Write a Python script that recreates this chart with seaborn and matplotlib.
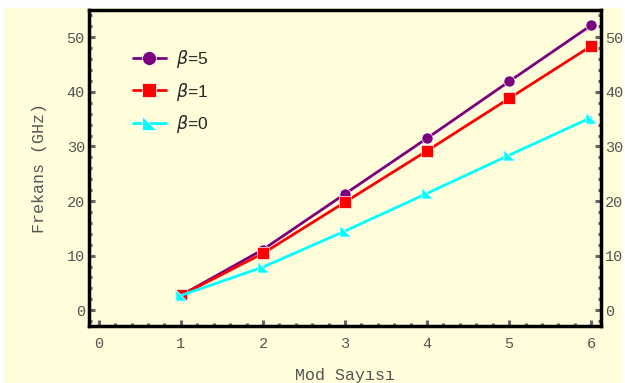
import numpy as np
import pandas as pd
import seaborn as sns
import matplotlib.pyplot as plt
from matplotlib.patches import Rectangle
from matplotlib.ticker import MultipleLocator

# data
mods = [1, 2, 3, 4, 5, 6]
beta5 = [2.7, 11.1, 21.3, 31.5, 41.9, 52.2]
beta1 = [2.7, 10.4, 19.8, 29.2, 38.8, 48.4]
beta0 = [2.7, 7.9, 14.5, 21.4, 28.4, 35.3]
labels = [r"$\beta$=5", r"$\beta$=1", r"$\beta$=0"]

df = pd.DataFrame({
    "Mod": mods * 3,
    "Frekans": beta5 + beta1 + beta0,
    "seri": [labels[0]] * 6 + [labels[1]] * 6 + [labels[2]] * 6,
})

cream = "#FFFDDA"
gray = "#555555"
tri = [(-1, 1), (-1, -1), (1, -1), (-1, 1)]
palette = {labels[0]: "#7B007F", labels[1]: "#FF0000", labels[2]: "#00FFFF"}
markers = {labels[0]: "o", labels[1]: "s", labels[2]: tri}

sns.set_style("white")
fig = plt.figure(figsize=(6.25, 3.83), dpi=100, facecolor="white")
bg = Rectangle((4 / 625, 0), 617 / 625, 1 - 8 / 383,
               transform=fig.transFigure, color=cream, zorder=-10)
fig.patches.append(bg)
ax = fig.add_axes([89 / 625, 1 - 326 / 383, 512 / 625, 316 / 383])
ax.set_facecolor(cream)

sns.lineplot(data=df, x="Mod", y="Frekans", hue="seri", style="seri",
             hue_order=labels, style_order=labels, palette=palette,
             markers=markers, dashes=False, markersize=8, linewidth=2,
             markeredgewidth=0.5, ax=ax)

ax.set_xlim(-0.12, 6.12)
ax.set_ylim(-2.9, 55)
ax.set_xticks(range(0, 7))
ax.set_yticks(range(0, 51, 10))
ax.xaxis.set_minor_locator(MultipleLocator(0.2))
ax.yaxis.set_minor_locator(MultipleLocator(2))
ax.tick_params(which="both", direction="in", color="#666666", top=False,
               right=True, left=True, bottom=True, labelright=True)
ax.tick_params(which="major", length=4.5, width=2.2, labelsize=11,
               labelcolor=gray)
ax.tick_params(axis="x", which="major", pad=8)
ax.tick_params(axis="y", which="major", pad=3)
ax.tick_params(which="minor", length=2.5, width=2.2)
for t in ax.xaxis.get_major_ticks() + ax.yaxis.get_major_ticks():
    t.label1.set_family("Liberation Mono")
    t.label2.set_family("Liberation Mono")

for s in ax.spines.values():
    s.set_linewidth(2.5)
    s.set_color("black")

ax.set_xlabel("Mod Sayısı", family="Liberation Mono", fontsize=12,
              color=gray, labelpad=12)
ax.set_ylabel("Frekans (GHz)", family="Liberation Mono", fontsize=12,
              color=gray, labelpad=14)

leg = ax.legend(loc="upper left", bbox_to_anchor=(0.055, 0.93), frameon=False,
                handlelength=1.9, handletextpad=0.6, labelspacing=0.62,
                prop={"family": "Liberation Sans", "size": 12.5})
for h in leg.legend_handles:
    h.set_markersize(10)

fig.savefig("out.png", dpi=100, facecolor=fig.get_facecolor())
